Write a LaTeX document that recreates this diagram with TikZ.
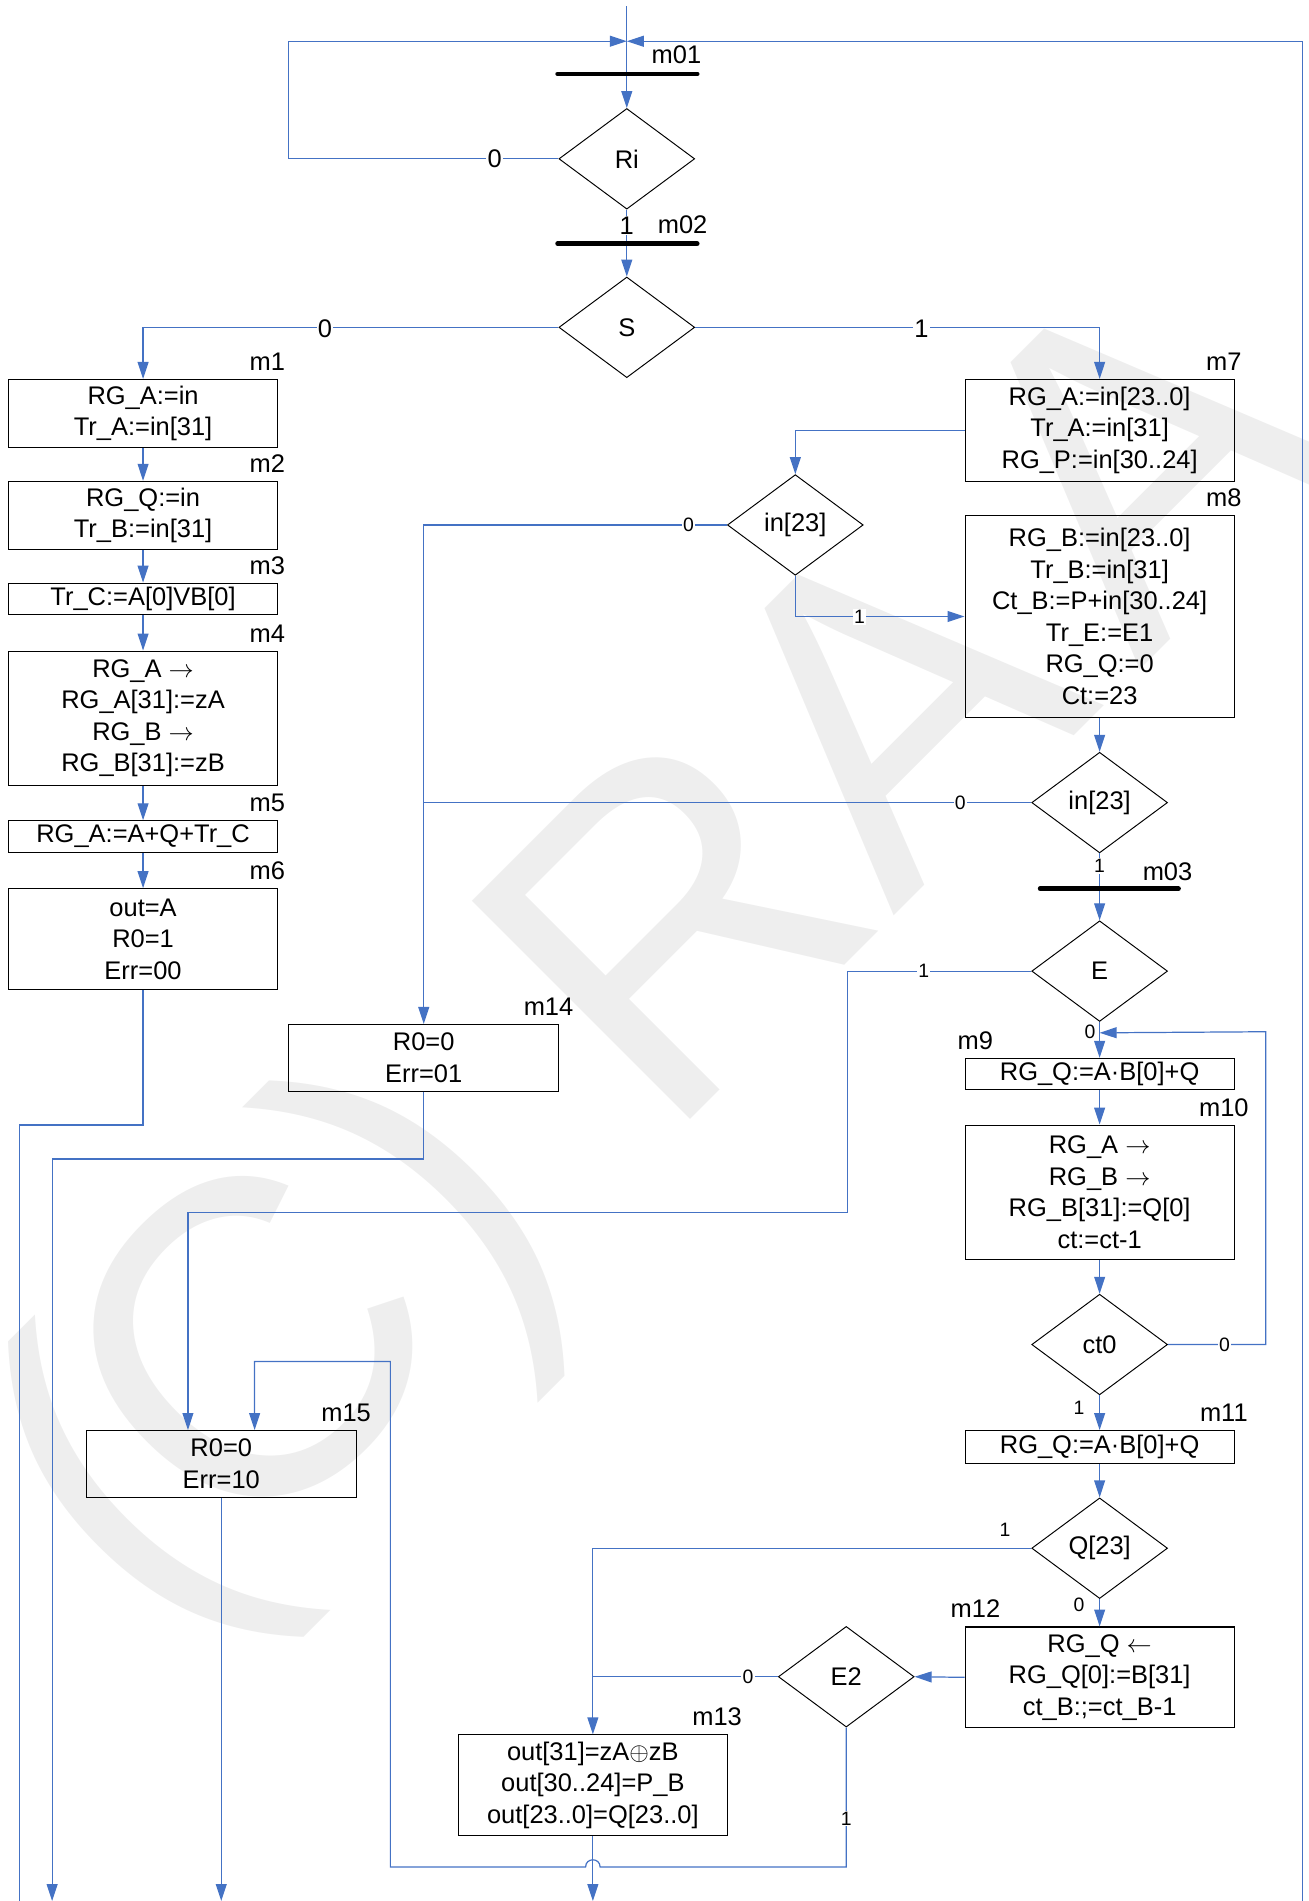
\documentclass[tikz,border=0pt]{standalone}
\usepackage{fontspec}
\setmainfont{Liberation Sans}
\usetikzlibrary{shapes.geometric,arrows.meta,calc}
\definecolor{lnblue}{RGB}{68,114,196}
\definecolor{wmgray}{RGB}{238,238,238}
\begin{document}
\begin{tikzpicture}[x=1pt,y=-1pt,
  box/.style={draw=black, line width=0.9pt, align=center, inner sep=0pt, minimum width=222pt, font=\fontsize{21}{26}\selectfont},
  dia/.style={draw=black, line width=0.8pt, diamond, aspect=1.35, inner sep=0pt, minimum width=112pt, minimum height=83pt, font=\fontsize{21}{26}\selectfont},
  conn/.style={draw=lnblue, line width=1pt},
  arr/.style={conn, -{Triangle[length=14pt,width=9pt]}},
  lblbig/.style={fill=white, inner sep=1pt, font=\fontsize{21}{21}\selectfont},
  lblsm/.style={fill=white, inner sep=1pt, font=\fontsize{16}{16}\selectfont},
  lblfree/.style={inner sep=0pt, font=\fontsize{16}{16}\selectfont},
  mlbl/.style={anchor=base, inner sep=0pt, font=\fontsize{21}{21}\selectfont},
  barline/.style={draw=black, line width=4pt, line cap=round},
]
\useasboundingbox (0,0) rectangle (1079,1568);
\clip (0,0) rectangle (1079,1568);

% watermark
\node[anchor=base west, inner sep=0pt, rotate=45, text=wmgray, font=\fontsize{370}{370}\selectfont] (wm) at (133,1360) {(\kern-0.08em C) RA\kern0.11em A};

% decisions
\node[dia] (Ri) at (517,131) {Ri};
\node[dia] (S) at (517,270) {S};
\node[dia] (inA) at (656,433) {in[23]};
\node[dia] (inB) at (907,662) {in[23]};
\node[dia] (E) at (907,801) {E};
\node[dia] (ct) at (907,1109) {ct0};
\node[dia] (Q) at (907,1277) {Q[23]};
\node[dia] (E2) at (698,1383) {E2};

% operation boxes
\node[box, minimum height=56pt] (m1) at (118,341) {RG\_A:=in\\Tr\_A:=in[31]};
\node[box, minimum height=56pt] (m2) at (118,425) {RG\_Q:=in\\Tr\_B:=in[31]};
\node[box, minimum height=26pt] (m3) at (118,494) {Tr\_C:=A[0]VB[0]};
\node[box, minimum height=111pt] (m4) at (118,592.5) {RG\_A $\rightarrow$\\RG\_A[31]:=zA\\RG\_B $\rightarrow$\\RG\_B[31]:=zB};
\node[box, minimum height=26pt] (m5) at (118,690) {RG\_A:=A+Q+Tr\_C};
\node[box, minimum height=83pt] (m6) at (118,774.5) {out=A\\R0=1\\Err=00};
\node[box, minimum height=84pt] (m7) at (907,355) {RG\_A:=in[23..0]\\Tr\_A:=in[31]\\RG\_P:=in[30..24]};
\node[box, minimum height=167pt] (m8) at (907,508.5) {RG\_B:=in[23..0]\\Tr\_B:=in[31]\\Ct\_B:=P+in[30..24]\\Tr\_E:=E1\\RG\_Q:=0\\Ct:=23};
\node[box, minimum height=26pt] (m9) at (907,886) {RG\_Q:=A·B[0]+Q};
\node[box, minimum height=111pt] (m10) at (907,983.5) {RG\_A $\rightarrow$\\RG\_B $\rightarrow$\\RG\_B[31]:=Q[0]\\ct:=ct-1};
\node[box, minimum height=27pt] (m11) at (907,1193.5) {RG\_Q:=A·B[0]+Q};
\node[box, minimum height=83pt] (m12) at (907,1383.5) {RG\_Q $\leftarrow$\\RG\_Q[0]:=B[31]\\ct\_B:;=ct\_B-1};
\node[box, minimum height=83pt] (m13) at (489,1472.5) {out[31]=zA$\oplus$zB\\out[30..24]=P\_B\\out[23..0]=Q[23..0]};
\node[box, minimum width=223pt, minimum height=55pt] (m14) at (349.5,872.5) {R0=0\\Err=01};
\node[box, minimum width=223pt, minimum height=55pt] (m15) at (182.5,1207.5) {R0=0\\Err=10};

% box labels
\node[mlbl] (lm1) at ($(m1.north east)+(-9,-7)$) {m1};
\node[mlbl] (lm2) at ($(m2.north east)+(-9,-7)$) {m2};
\node[mlbl] (lm3) at ($(m3.north east)+(-9,-7)$) {m3};
\node[mlbl] (lm4) at ($(m4.north east)+(-9,-7)$) {m4};
\node[mlbl] (lm5) at ($(m5.north east)+(-9,-7)$) {m5};
\node[mlbl] (lm6) at ($(m6.north east)+(-9,-7)$) {m6};
\node[mlbl] (lm7) at ($(m7.north east)+(-9,-7)$) {m7};
\node[mlbl] (lm8) at ($(m8.north east)+(-9,-7)$) {m8};
\node[mlbl] (lm9) at ($(m9.north west)+(9,-7)$) {m9};
\node[mlbl] (lm10) at ($(m10.north east)+(-9,-7)$) {m10};
\node[mlbl] (lm11) at ($(m11.north east)+(-9,-7)$) {m11};
\node[mlbl] (lm12) at ($(m12.north west)+(9,-7)$) {m12};
\node[mlbl] (lm13) at ($(m13.north east)+(-9,-7)$) {m13};
\node[mlbl] (lm14) at ($(m14.north east)+(-9,-7)$) {m14};
\node[mlbl] (lm15) at ($(m15.north east)+(-9,-7)$) {m15};
\node[mlbl] (lm01) at (558,52.5) {m01};
\node[mlbl] (lm02) at (563,192.5) {m02};
\node[mlbl] (lm03) at (963,726.5) {m03};

% free ends and bends
\coordinate (top) at (517,5);
\coordinate (j1) at (517,34);
\coordinate (c1) at (238,34);
\coordinate (rt) at (1074,34);
\coordinate (rb) at (1074,1568);
\coordinate (b1) at (16,928);
\coordinate (o1) at (16,1568);
\coordinate (b2) at (43,956);
\coordinate (o2) at (43,1568);
\coordinate (o3) at (489,1568);
\coordinate (e1) at (699,1000);
\coordinate (m15a) at ($(m15.north)+(-27.5,0)$);
\coordinate (m15b) at ($(m15.north)+(27.5,0)$);
\coordinate (lp) at (1044,851);
\coordinate (jE) at ($(E.south)+(0,9)$);
\coordinate (h1) at (322,1540);
\coordinate (h2) at (322,1123);
\coordinate (hr) at ($(m13.south |- h1)+(6,0)$);
\coordinate (hl) at ($(m13.south |- h1)+(-6,0)$);

% connectors
\draw[arr] (top) -- (Ri.north);
\draw[arr] (Ri.west) -| (c1) -- (j1);
\draw[arr] (rb) -- (rt) -- (j1);
\draw[arr] (Ri.south) -- (S.north);
\draw[arr] (S.west) -| (m1.north);
\draw[arr] (S.east) -| (m7.north);
\draw[arr] (m1.south) -- (m2.north);
\draw[arr] (m2.south) -- (m3.north);
\draw[arr] (m3.south) -- (m4.north);
\draw[arr] (m4.south) -- (m5.north);
\draw[arr] (m5.south) -- (m6.north);
\draw[conn] (m6.south) |- (b1) -- (o1);
\draw[arr] (m7.west) -| (inA.north);
\draw[arr] (inA.south) |- (m8.west);
\draw[arr] (inA.west) -| (m14.north);
\draw[arr] (m8.south) -- (inB.north);
\draw[conn] (inB.west) -- (inB.west -| m14.north);
\draw[arr] (inB.south) -- (E.north);
\draw[arr] (E.west) -| (e1) -| (m15a);
\draw[arr] (E.south) -- (m9.north);
\draw[arr] (ct.east) -| (lp) -- (jE);
\draw[arr] (m9.south) -- (m10.north);
\draw[arr] (m10.south) -- (ct.north);
\draw[arr] (ct.south) -- (m11.north);
\draw[arr] (m11.south) -- (Q.north);
\draw[arr] (Q.west) -| (m13.north);
\draw[arr] (Q.south) -- (m12.north);
\draw[arr] (m12.west) -- (E2.east);
\draw[conn] (E2.west) -- (E2.west -| m13.north);
\draw[arr] (m13.south) -- (o3);
\draw[arr] (m14.south) |- (b2) -- (o2);
\draw[arr] (m15.south) -- (m15.south |- o3);
\draw[arr] (E2.south) |- (hr) .. controls +(0,-8) and +(0,-8) .. (hl) -- (h1) -- (h2) -| (m15b);

% sync bars
\coordinate (bar1l) at (460,61); \coordinate (bar1r) at (575,61);
\coordinate (bar2l) at (460,201); \coordinate (bar2r) at (575,201);
\coordinate (bar3l) at (858,733); \coordinate (bar3r) at (972,733);
\draw[barline] (bar1l) -- (bar1r);
\draw[barline] (bar2l) -- (bar2r);
\draw[barline] (bar3l) -- (bar3r);

% branch labels
\node[lblbig] (t0a) at (408,131) {0};
\node[lblbig] (t1a) at (517,186) {1};
\node[lblbig] (t0b) at (268,271) {0};
\node[lblbig] (t1b) at (760,271) {1};
\node[lblsm] (s0a) at (568,433) {0};
\node[lblsm] (s1a) at (709,509) {1};
\node[lblsm] (s0b) at (792,662) {0};
\node[lblsm] (s1b) at (907,714) {1};
\node[lblsm] (s1c) at (762,801) {1};
\node[lblfree] (s0c) at (899,851) {0};
\node[lblsm] (s0d) at (1010,1109) {0};
\node[lblfree] (s1d) at (890,1161) {1};
\node[lblfree] (s1e) at (829,1262) {1};
\node[lblfree] (s0e) at (890,1324) {0};
\node[lblsm] (s0f) at (617,1383) {0};
\node[lblsm] (s1f) at (698,1500) {1};
\end{tikzpicture}
\end{document}
